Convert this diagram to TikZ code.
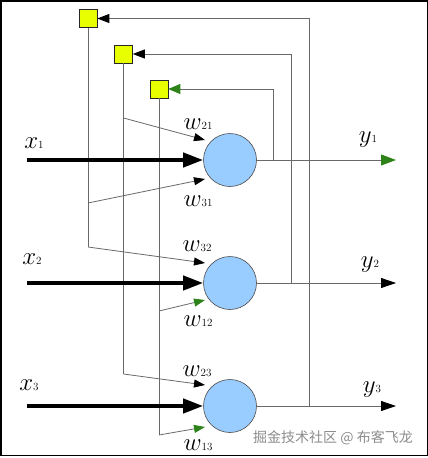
\documentclass[tikz,border=0pt]{standalone}
\usepackage{fontspec}
\newfontfamily\cjk{Noto Sans CJK SC}
\usetikzlibrary{arrows.meta,calc}
\definecolor{neuron}{RGB}{153,204,255}
\definecolor{sq}{RGB}{232,255,0}
\definecolor{grn}{RGB}{45,130,25}
\definecolor{ln}{RGB}{105,105,105}
\newcommand\lab[2]{{\fontsize{25}{25}\selectfont$#1$}{\fontsize{11}{11}\selectfont #2}}
\begin{document}
\begin{tikzpicture}[x=1pt,y=-1pt,
  neuronst/.style={circle,draw=black!70,line width=.6pt,fill=neuron,minimum size=53pt,inner sep=0pt},
  delay/.style={rectangle,draw=black!85,line width=.6pt,fill=sq,minimum size=18pt,inner sep=0pt},
  wire/.style={draw=ln,line width=.8pt},
  warr/.style={wire,-{Triangle[length=11pt,width=8pt,color=black]}},
  garr/.style={wire,-{Triangle[length=11pt,width=8pt,color=grn]}},
  fbarr/.style={wire,-{Triangle[length=12pt,width=9pt,color=black]}},
  gfbarr/.style={wire,-{Triangle[length=12pt,width=10pt,color=grn]}},
  inarr/.style={line width=4pt,-{Triangle[length=20pt,width=14pt]}},
  outarr/.style={wire,-{Triangle[length=15pt,width=10pt,color=black]}},
  goutarr/.style={wire,-{Triangle[length=15pt,width=11pt,color=grn]}},
  lbl/.style={inner sep=0pt}]
\useasboundingbox (0,0) rectangle (428,458);
\draw[line width=1.5pt] (0.75,0.75) rectangle (427.25,455.5);
% neurons and delay units
\node[neuronst] (n1) at (230,160) {};
\node[neuronst] (n2) at (230,283) {};
\node[neuronst] (n3) at (230,406) {};
\node[delay] (s1) at (88,18.5) {};
\node[delay] (s2) at (123.5,54) {};
\node[delay] (s3) at (159,89) {};
% taps on the delay lines
\coordinate (a31) at (88,203);
\coordinate (a32) at (88,247);
\coordinate (a21) at (123.5,118);
\coordinate (a23) at (123.5,374);
\coordinate (a12) at (159,311);
\coordinate (a13) at (159,435);
\draw[wire] (s1.south) -- (a32);
\draw[wire] (s2.south) -- (a23);
\draw[wire] (s3.south) -- (a13);
% arrow tips at neurons
\coordinate (t21) at ($(n1)+(-25,-20)$);
\coordinate (t31) at ($(n1)+(-25,19)$);
\coordinate (t32) at ($(n2)+(-25,-20)$);
\coordinate (t12) at ($(n2)+(-25,17)$);
\coordinate (t23) at ($(n3)+(-25,-21)$);
\coordinate (t13) at ($(n3)+(-25,21)$);
\draw[warr] (a21) -- (t21);
\draw[warr] (a31) -- (t31);
\draw[warr] (a32) -- (t32);
\draw[garr] (a12) -- (t12);
\draw[warr] (a23) -- (t23);
\draw[garr] (a13) -- (t13);
% inputs
\coordinate (i1) at (27,160);
\coordinate (i2) at (27,283);
\coordinate (i3) at (27,406);
\draw[inarr] (i1) -- (n1.west);
\draw[inarr] (i2) -- (n2.west);
\draw[inarr] (i3) -- (n3.west);
% outputs
\coordinate (o1) at (396,160);
\coordinate (o2) at (396,283);
\coordinate (o3) at (396,406);
\draw[goutarr] (n1.east) -- (o1);
\draw[outarr] (n2.east) -- (o2);
\draw[outarr] (n3.east) -- (o3);
% feedback
\coordinate (f1) at (273,160);
\coordinate (f2) at (291,283);
\coordinate (f3) at (309,406);
\draw[gfbarr] (f1) |- (s3.east);
\draw[fbarr] (f2) |- (s2.east);
\draw[fbarr] (f3) |- (s1.east);
% labels
\node[lbl] (lx1) at (34,143) {\lab{x}{1}};
\node[lbl] (lx2) at (32,259) {\lab{x}{2}};
\node[lbl] (lx3) at (29,385) {\lab{x}{3}};
\node[lbl] (ly1) at (368,140) {\lab{y}{1}};
\node[lbl] (ly2) at (370,265) {\lab{y}{2}};
\node[lbl] (ly3) at (372,390) {\lab{y}{3}};
\node[lbl] (lw21) at (198,124) {\lab{w}{21}};
\node[lbl] (lw31) at (198,201) {\lab{w}{31}};
\node[lbl] (lw32) at (197,246) {\lab{w}{32}};
\node[lbl] (lw12) at (198,321) {\lab{w}{12}};
\node[lbl] (lw23) at (197,371) {\lab{w}{23}};
\node[lbl] (lw13) at (198,445) {\lab{w}{13}};
\node[lbl,text=black!45,font=\cjk\fontsize{14}{14}\selectfont] (wm) at (333,438) {掘金技术社区 @ 布客飞龙};
\end{tikzpicture}
\end{document}
